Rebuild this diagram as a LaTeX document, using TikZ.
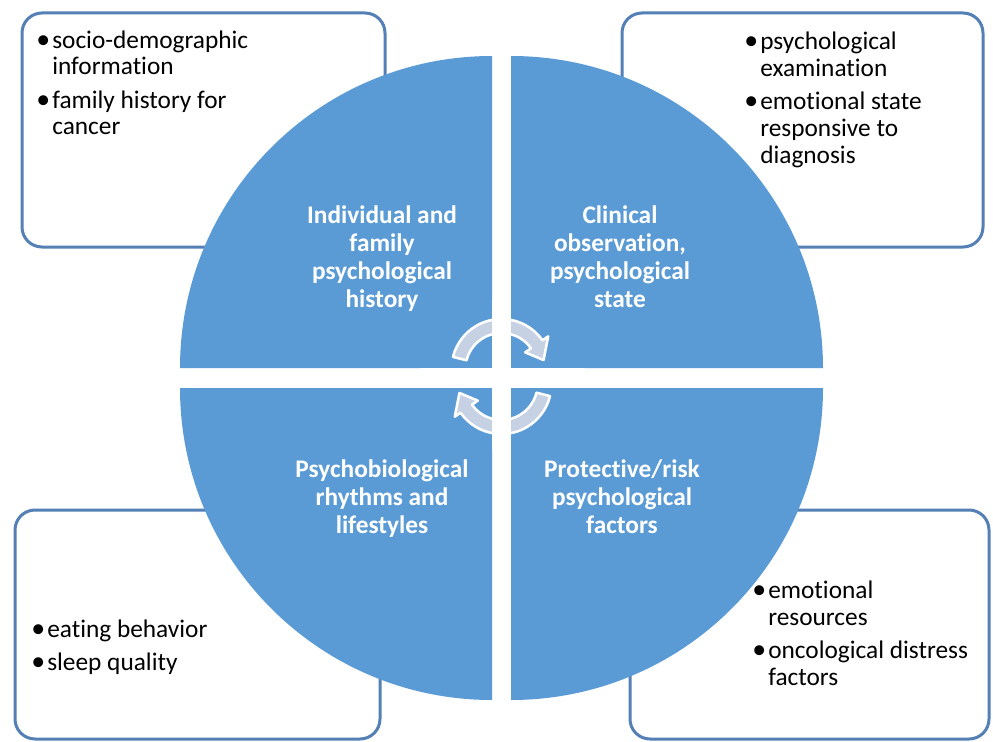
\documentclass[tikz,border=0pt]{standalone}
\usepackage{graphicx}
\usepackage{fontspec}
\setmainfont{Carlito}[Ligatures=NoCommon]
\definecolor{quadblue}{RGB}{91,155,213}
\definecolor{boxline}{RGB}{84,128,182}
\definecolor{arrowfill}{RGB}{198,210,228}
\newcommand{\bul}{\makebox[12pt][l]{\raisebox{-0.5pt}{\scalebox{1.1}{•}}}}
\newcommand{\ind}{\hspace*{12pt}}
\tikzset{
  infobox/.style={draw=boxline, line width=2.25pt, rounded corners=15pt, fill=white},
  quad/.style={fill=quadblue},
  cyclearrow/.style={fill=arrowfill, draw=white, line width=1.9pt, line join=round},
  boxtext/.style={inner sep=0pt, align=left, font=\fontsize{19}{20.25}\selectfont},
  quadtext/.style={inner sep=0pt, align=center, text=white, font=\bfseries\fontsize{19}{21}\selectfont}
}
\begin{document}
\begin{tikzpicture}[x=0.75pt,y=0.75pt,yscale=-1,xscale=1]
%set diagram size 993 x 742
\fill[white] (0,0) rectangle (993,742);
\useasboundingbox (0,0) rectangle (993,742);

%Shape: Rounded boxes
\draw[infobox] (22,13) rectangle (385,247);
\draw[infobox] (622,13) rectangle (983,247);
\draw[infobox] (15,510) rectangle (380,739);
\draw[infobox] (630,510) rectangle (989,739);

%Shape: Quarter circles
\fill[quad] (492,368) -- ++(-312,0) arc[start angle=180, end angle=270, radius=312] -- cycle;
\fill[quad] (511,368) -- ++(0,-312) arc[start angle=270, end angle=360, radius=312] -- cycle;
\fill[quad] (492,388) -- ++(-312,0) arc[start angle=180, end angle=90, radius=312] -- cycle;
\fill[quad] (511,388) -- ++(312,0) arc[start angle=0, end angle=90, radius=312] -- cycle;

%Curve Lines: cycle arrows
\begin{scope}[shift={(501.5,369)},yscale=-1]
\draw[cyclearrow] (166:50) arc[start angle=166, end angle=35, radius=50] -- (35:57) -- (12:43) -- (35:29) -- (35:36) arc[start angle=35, end angle=166, radius=36] -- cycle;
\end{scope}
\begin{scope}[shift={(501.5,384)},yscale=-1]
\draw[cyclearrow] (-14:50) arc[start angle=-14, end angle=-145, radius=50] -- (-145:57) -- (-168:43) -- (-145:29) -- (-145:36) arc[start angle=-145, end angle=-14, radius=36] -- cycle;
\end{scope}
%gaps between quarters
\fill[white] (492,300) rectangle (511,450);
\fill[white] (420,368) rectangle (585,388);

% Text Node (anchored at baseline of last line)
\node[quadtext, anchor=base] (histLabel) at (382,307) {Individual and\\family\\psychological\\history};
% Text Node
\node[quadtext, anchor=base] (clinLabel) at (620,307) {Clinical\\observation,\\psychological\\state};
% Text Node
\node[quadtext, anchor=base] (rhythmLabel) at (382,533) {Psychobiological\\rhythms and\\lifestyles};
% Text Node
\node[quadtext, anchor=base] (riskLabel) at (622,533) {Protective/risk\\psychological\\factors};

% Text Node
\node[boxtext, anchor=base west] (histText) at (36,135) {\bul socio-demographic\\\ind information\\[4.5pt]\bul family history for\\\ind cancer};
% Text Node
\node[boxtext, anchor=base west] (clinText) at (744,163) {\bul psychological\\\ind examination\\[4.5pt]\bul emotional state\\\ind responsive to\\\ind diagnosis};
% Text Node
\node[boxtext, anchor=base west] (rhythmText) at (31,670) {\bul eating behavior\\[4.5pt]\bul sleep quality};
% Text Node
\node[boxtext, anchor=base west] (riskText) at (752,685) {\bul emotional\\\ind resources\\[4.5pt]\bul oncological distress\\\ind factors};

\end{tikzpicture}
\end{document}
